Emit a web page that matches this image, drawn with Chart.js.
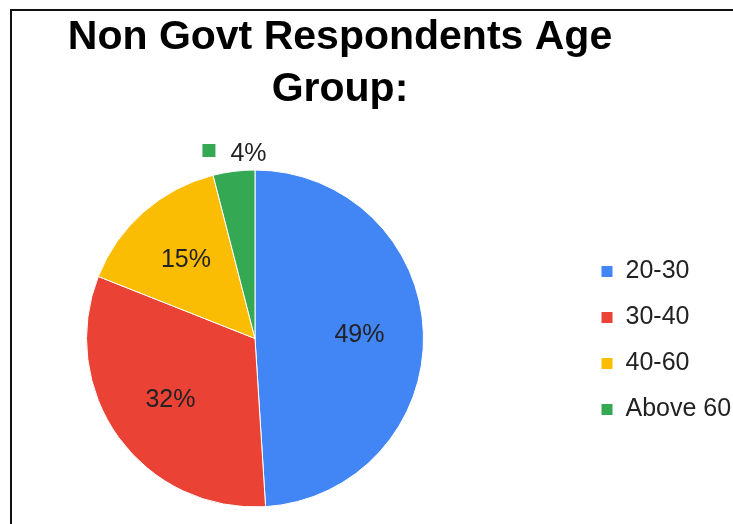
<!DOCTYPE html>
<html>
<head>
<meta charset="utf-8">
<title>Non Govt Respondents Age Group</title>
<script src="https://cdn.jsdelivr.net/npm/chart.js@4"></script>
<style>
  html, body { margin: 0; padding: 0; background: #fff; overflow: hidden; }
  .frame {
    position: absolute; left: 10px; top: 9px; width: 721px; height: 513px;
    border-left: 2px solid #111; border-top: 2px solid #111;
  }
  .wrap { position: absolute; left: 0; top: 0; width: 733px; height: 524px; }
</style>
</head>
<body>
<div class="frame"></div>
<div class="wrap"><canvas id="ageChart" width="733" height="524"></canvas></div>
<script>
const ageGroups = ['20-30', '30-40', '40-60', 'Above 60'];
const sharePercent = [49, 32, 15, 4];
const sliceColors = ['#4285F4', '#EA4335', '#FBBC04', '#34A853'];
const titleLines = ['Non Govt Respondents Age', 'Group:'];

const FONT = '"Liberation Sans", Arial, sans-serif';
Chart.defaults.font.family = FONT;

// pie sits on the left half; legend moved down next to it
const pieArea = {
    id: 'pieArea',
    afterLayout(chart) {
        const r = 169, cx = 255, cy = 338.5;
        chart.chartArea = {left: cx - r, right: cx + r, top: cy - r, bottom: cy + r, width: 2 * r, height: 2 * r};
        const lg = chart.legend;
        const dx = 580 - lg.left;
        lg.left += dx; lg.right += dx;
        lg.top += 87; lg.bottom += 87;
    }
};

// percentage labels; very small slices get a swatch + label outside the pie
const pctLabels = {
    id: 'pctLabels',
    afterDatasetsDraw(chart) {
        const ctx = chart.ctx;
        const meta = chart.getDatasetMeta(0);
        ctx.save();
        ctx.font = '25px ' + FONT;
        ctx.textBaseline = 'middle';
        meta.data.forEach((arc, i) => {
            const p = arc.getProps(['x', 'y', 'startAngle', 'endAngle', 'outerRadius'], true);
            const mid = (p.startAngle + p.endAngle) / 2;
            const text = sharePercent[i] + '%';
            if (sharePercent[i] < 5) {
                const d = p.outerRadius + 19;
                const gx = p.x + Math.cos(mid) * d;
                const gy = p.y + Math.sin(mid) * d;
                const tw = ctx.measureText(text).width;
                const box = 13, gap = 15;
                const left = gx - (box + gap + tw) / 2 + 3;
                ctx.fillStyle = sliceColors[i];
                ctx.fillRect(left, gy - box / 2 - 2, box, box);
                ctx.fillStyle = '#222';
                ctx.textAlign = 'left';
                ctx.fillText(text, left + box + gap, gy + 2);
            } else {
                const d = p.outerRadius * 0.62;
                ctx.fillStyle = '#222';
                ctx.textAlign = 'center';
                ctx.fillText(text, p.x + Math.cos(mid) * d, p.y + Math.sin(mid) * d);
            }
        });
        ctx.restore();
    }
};

const ctx = document.getElementById('ageChart');
const ageChart = new Chart(ctx, {
    type: 'pie',
    data: {
        labels: ageGroups,
        datasets: [{
            data: sharePercent,
            backgroundColor: sliceColors,
            borderColor: '#fff',
            borderWidth: 1
        }]
    },
    options: {
        responsive: false,
        animation: false,
        layout: {
            padding: {left: 0, right: 53, top: 0, bottom: 17}
        },
        plugins: {
            title: {
                display: true,
                text: titleLines,
                color: '#000',
                font: {family: FONT, size: 41, weight: 'bold', lineHeight: 1.28},
                padding: {top: 11, bottom: 55}
            },
            legend: {
                position: 'right',
                labels: {
                    boxWidth: 12,
                    boxHeight: 12,
                    padding: 21,
                    color: '#222',
                    font: {size: 25}
                }
            },
            tooltip: {enabled: false}
        }
    },
    plugins: [pieArea, pctLabels]
});
</script>
</body>
</html>
